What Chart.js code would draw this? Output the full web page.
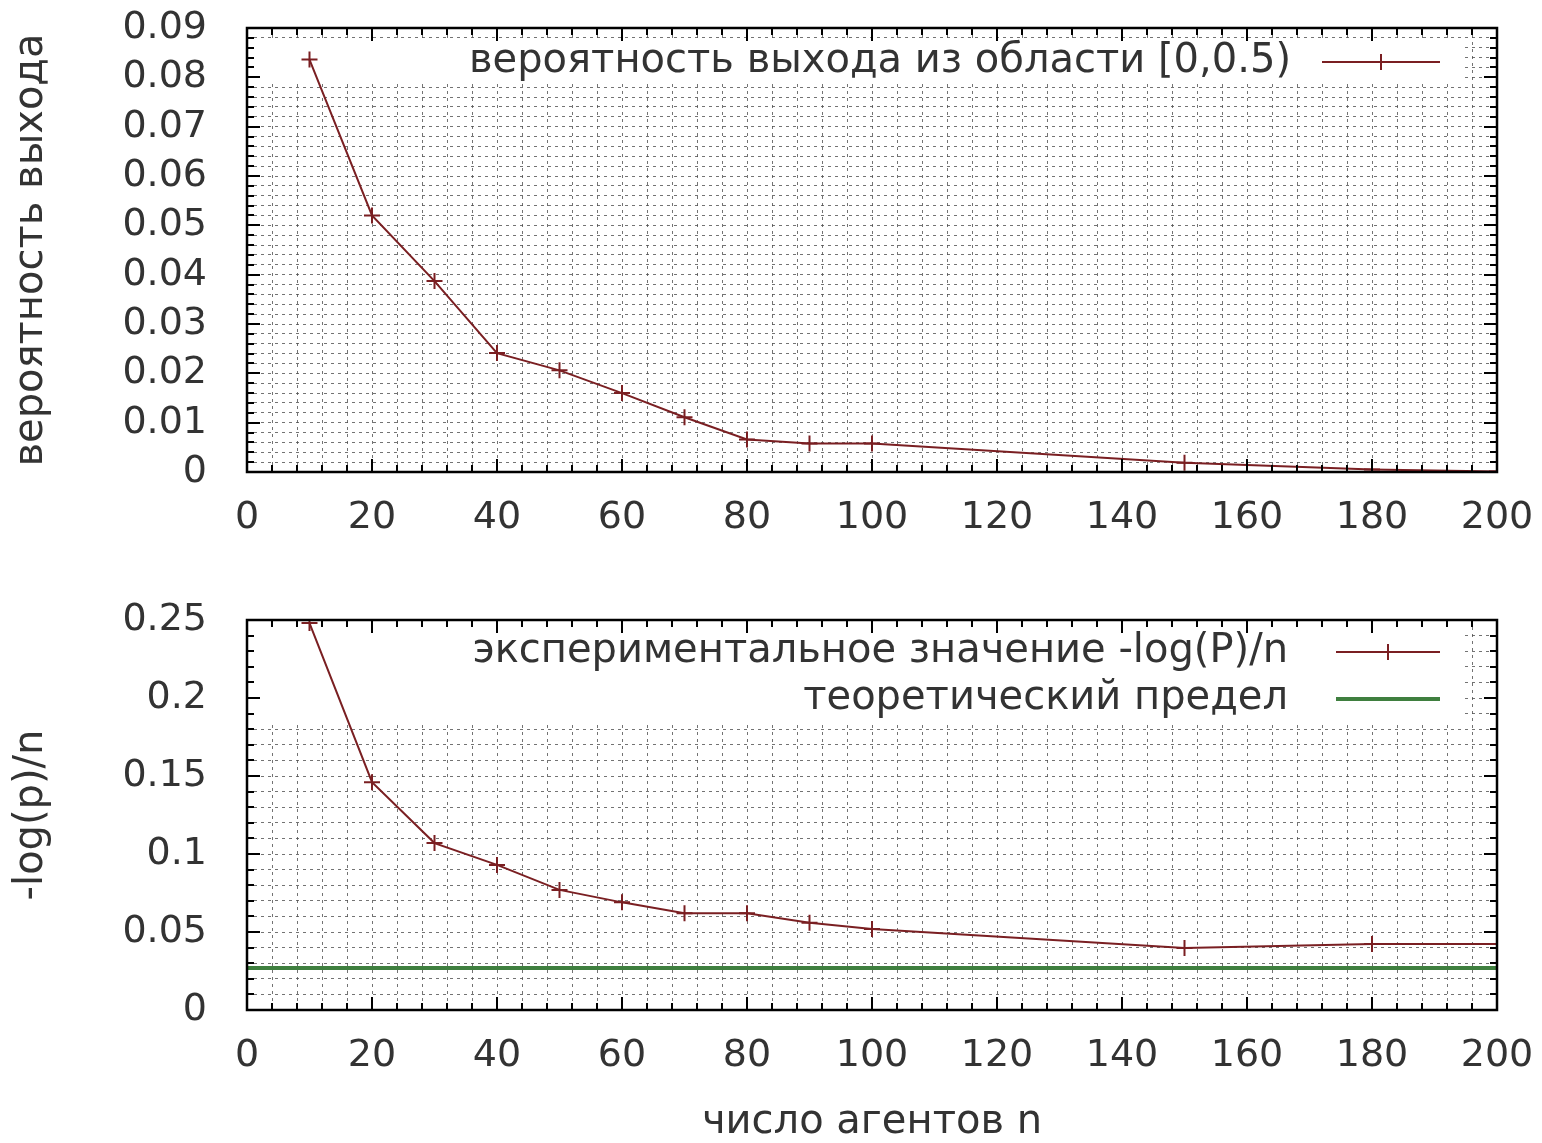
<!DOCTYPE html>
<html><head><meta charset="utf-8">
<script src="https://cdn.jsdelivr.net/npm/chart.js@4.4.0/dist/chart.umd.min.js"></script>
<style>
html,body{margin:0;padding:0;background:#fff;}
#w1{position:absolute;left:0;top:0;width:1542px;height:560px;}
#w2{position:absolute;left:0;top:560px;width:1542px;height:583px;}
</style></head>
<body>
<div id="w1"><canvas id="c1" width="1542" height="560"></canvas></div>
<div id="w2"><canvas id="c2" width="1542" height="583"></canvas></div>
<script>
// ---- data ----
const agentsN = [10, 20, 30, 40, 50, 60, 70, 80, 90, 100, 150, 180, 200];
const exitProb = [0.0836, 0.0520, 0.0387, 0.0241, 0.0206, 0.0160, 0.0111, 0.0066, 0.0058, 0.0058, 0.0019, 0.0005, 0.0001];
const logPn = [0.248, 0.146, 0.107, 0.093, 0.077, 0.069, 0.062, 0.062, 0.056, 0.052, 0.0398, 0.0423, 0.0423];
const theoryX = [0, 200];
const theoryY = [0.027, 0.027];
const xMajorTicks = [0, 20, 40, 60, 80, 100, 120, 140, 160, 180, 200];
const yTopMajorTicks = [0, 0.01, 0.02, 0.03, 0.04, 0.05, 0.06, 0.07, 0.08, 0.09];
const yBotMajorTicks = [0, 0.05, 0.1, 0.15, 0.2, 0.25];
const xMinorPerMajor = 5, yMinorPerMajor = 5;

const label1 = 'вероятность выхода из области [0,0.5)';
const label2 = 'экспериментальное значение -log(P)/n';
const label3 = 'теоретический предел';
const yTitle1 = 'вероятность выхода';
const yTitle2 = '-log(p)/n';
const xTitle = 'число агентов n';

const FONT = 'DejaVu Sans';
const TXT = '#333';
const RED = '#7a1f22';
const GREEN = '#3f7f3f';
const GRID = 'rgba(80,80,80,0.8)';

function expand(majors, per){
  const out = [];
  for (let i = 0; i < majors.length - 1; i++){
    const a = majors[i], b = majors[i+1];
    for (let k = 0; k < per; k++) out.push(a + (b - a) * k / per);
  }
  out.push(majors[majors.length - 1]);
  return out;
}
function isMajor(v, majors){ return majors.some(m => Math.abs(m - v) < 1e-9); }
function fmt(v){ return String(Math.round(v * 1000) / 1000); }

const framePlugin = (majX, majY, whiteRect, legendItems) => ({
  id: 'frame',
  beforeDatasetsDraw(chart){
    const ctx = chart.ctx;
    ctx.save();
    ctx.fillStyle = '#fff';
    ctx.fillRect(whiteRect[0], whiteRect[1], whiteRect[2] - whiteRect[0], whiteRect[3] - whiteRect[1]);
    ctx.restore();
  },
  afterDatasetsDraw(chart){
    const ctx = chart.ctx, a = chart.chartArea;
    const xs = chart.scales.x, ys = chart.scales.y;
    ctx.save();
    ctx.strokeStyle = '#000';
    ctx.lineWidth = 2;
    ctx.beginPath();
    xs.ticks.forEach(t => {
      const px = Math.round(xs.getPixelForValue(t.value));
      const L = isMajor(t.value, majX) ? 13 : 7;
      ctx.moveTo(px, a.bottom); ctx.lineTo(px, a.bottom - L);
      ctx.moveTo(px, a.top); ctx.lineTo(px, a.top + L);
    });
    ys.ticks.forEach(t => {
      const py = Math.round(ys.getPixelForValue(t.value));
      const L = isMajor(t.value, majY) ? 13 : 7;
      ctx.moveTo(a.left, py); ctx.lineTo(a.left + L, py);
      ctx.moveTo(a.right, py); ctx.lineTo(a.right - L, py);
    });
    ctx.stroke();
    ctx.lineWidth = 2.5;
    ctx.strokeRect(a.left, a.top, a.right - a.left, a.bottom - a.top);
    // legend
    ctx.font = '40px "' + FONT + '"';
    ctx.textAlign = 'right';
    ctx.textBaseline = 'middle';
    legendItems.forEach(it => {
      ctx.fillStyle = TXT;
      ctx.fillText(it.text, it.tx, it.y);
      ctx.strokeStyle = it.color;
      ctx.lineWidth = it.width;
      ctx.beginPath();
      ctx.moveTo(it.x0, it.y); ctx.lineTo(it.x1, it.y);
      if (it.cross){
        const cx = (it.x0 + it.x1) / 2;
        ctx.moveTo(cx, it.y - 8); ctx.lineTo(cx, it.y + 8);
      }
      ctx.stroke();
    });
    ctx.restore();
  }
});

function makeChart(id, datasets, yMax, yMajors, padTop, xAxisH, yTitleText, showXTitle, whiteRect, legendItems){
  const xTicks = expand(xMajorTicks, xMinorPerMajor);
  const yTicks = expand(yMajors, yMinorPerMajor);
  return new Chart(document.getElementById(id), {
    type: 'line',
    data: { datasets },
    options: {
      responsive: false,
      animation: false,
      layout: { padding: { left: 0, right: 45, top: padTop, bottom: 0 } },
      plugins: { legend: { display: false }, tooltip: { enabled: false } },
      scales: {
        x: {
          type: 'linear', min: 0, max: 200,
          afterBuildTicks: s => { s.ticks = xTicks.map(v => ({ value: v })); },
          afterFit: s => { s.height = xAxisH; s.paddingLeft = 0; s.paddingRight = 0; s.paddingTop = 0; s.paddingBottom = 0; },
          border: { display: false, dash: [3, 4] },
          grid: { color: GRID, lineWidth: 1, drawTicks: false },
          ticks: {
            autoSkip: false, maxRotation: 0, padding: 23, color: TXT,
            font: { family: FONT, size: 38, lineHeight: 1.2 },
            callback: v => isMajor(v, xMajorTicks) ? fmt(v) : ''
          },
          title: {
            display: showXTitle, text: xTitle, color: TXT,
            font: { family: FONT, size: 40, lineHeight: 1 },
            padding: { top: 0, bottom: 0 }
          }
        },
        y: {
          type: 'linear', min: 0, max: yMax,
          afterBuildTicks: s => { s.ticks = yTicks.map(v => ({ value: v })); },
          afterFit: s => { s.width = 247; s.paddingLeft = 0; s.paddingRight = 0; s.paddingTop = 0; s.paddingBottom = 0; },
          border: { display: false, dash: [3, 4] },
          grid: { color: GRID, lineWidth: 1, drawTicks: false },
          ticks: {
            autoSkip: false, padding: 40, color: TXT,
            font: { family: FONT, size: 38, lineHeight: 1.2 },
            callback: v => isMajor(v, yMajors) ? fmt(v) : ''
          },
          title: {
            display: true, text: yTitleText, color: TXT,
            font: { family: FONT, size: 40, lineHeight: 1.2 },
            padding: { top: 8, bottom: 0 }
          }
        }
      }
    },
    plugins: [framePlugin(xMajorTicks, yMajors, whiteRect, legendItems)]
  });
}

const dsTop = [{
  data: agentsN.map((x, i) => ({ x, y: exitProb[i] })),
  borderColor: RED, backgroundColor: RED, borderWidth: 2, tension: 0,
  pointStyle: 'cross', pointRadius: 8, pointBorderWidth: 2, pointBorderColor: RED
}];
const dsBot = [{
  data: agentsN.map((x, i) => ({ x, y: logPn[i] })),
  borderColor: RED, backgroundColor: RED, borderWidth: 2, tension: 0,
  pointStyle: 'cross', pointRadius: 8, pointBorderWidth: 2, pointBorderColor: RED
}, {
  data: theoryX.map((x, i) => ({ x, y: theoryY[i] })),
  borderColor: GREEN, borderWidth: 4, pointRadius: 0, tension: 0
}];

makeChart('c1', dsTop, 0.09, yTopMajorTicks, 28, 88, yTitle1, false,
  [249, 41, 1463, 82],
  [{ text: label1, tx: 1291, y: 62, x0: 1322, x1: 1440, color: RED, width: 2, cross: true }]);

makeChart('c2', dsBot, 0.25, yBotMajorTicks, 60, 133, yTitle2, true,
  [249, 63, 1462, 162],
  [{ text: label2, tx: 1288, y: 92, x0: 1336, x1: 1440, color: RED, width: 2, cross: true },
   { text: label3, tx: 1288, y: 139, x0: 1336, x1: 1440, color: GREEN, width: 4, cross: false }]);
</script>
</body></html>
